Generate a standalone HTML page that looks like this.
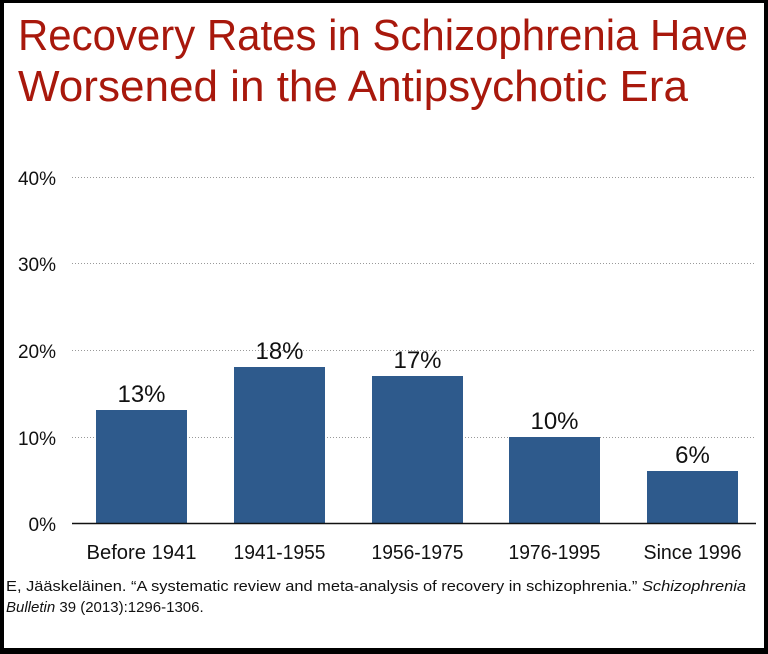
<!DOCTYPE html>
<html><head><meta charset="utf-8"><style>
html,body{margin:0;padding:0;background:#000;}
svg{display:block;}
</style></head><body>
<svg width="768" height="654" xmlns="http://www.w3.org/2000/svg" font-family="'Liberation Sans', sans-serif">
<rect x="0" y="0" width="768" height="654" fill="#000"/>
<rect x="4" y="3" width="760" height="645" fill="#fff"/>
<text x="18" y="50" font-size="44" fill="#a8180c" textLength="730" lengthAdjust="spacingAndGlyphs">Recovery Rates in Schizophrenia Have</text>
<text x="18" y="101" font-size="44" fill="#a8180c" textLength="670" lengthAdjust="spacingAndGlyphs">Worsened in the Antipsychotic Era</text>
<g stroke="#999" stroke-width="1" stroke-dasharray="1,2">
<line x1="72" x2="756" y1="177.5" y2="177.5"/>
<line x1="72" x2="756" y1="263.5" y2="263.5"/>
<line x1="72" x2="756" y1="350.5" y2="350.5"/>
<line x1="72" x2="756" y1="437.5" y2="437.5"/>
</g>
<g font-size="19" fill="#111" text-anchor="end">
<text x="56" y="185">40%</text>
<text x="56" y="271">30%</text>
<text x="56" y="358">20%</text>
<text x="56" y="445">10%</text>
<text x="56" y="531">0%</text>
</g>
<g fill="#2e5a8c">
<rect x="96" y="410" width="91" height="113"/>
<rect x="234" y="367" width="91" height="156"/>
<rect x="372" y="376" width="91" height="147"/>
<rect x="509" y="437" width="91" height="86"/>
<rect x="647" y="471" width="91" height="52"/>
</g>
<line x1="72" x2="756" y1="523.5" y2="523.5" stroke="#111" stroke-width="1.5"/>
<g font-size="24" fill="#111" text-anchor="middle">
<text x="141.5" y="402">13%</text>
<text x="279.5" y="359">18%</text>
<text x="417.5" y="368">17%</text>
<text x="554.5" y="429">10%</text>
<text x="692.5" y="463">6%</text>
</g>
<g font-size="20" fill="#111" text-anchor="middle">
<text x="141.5" y="559" textLength="110" lengthAdjust="spacingAndGlyphs">Before 1941</text>
<text x="279.5" y="559" textLength="92" lengthAdjust="spacingAndGlyphs">1941-1955</text>
<text x="417.5" y="559" textLength="92" lengthAdjust="spacingAndGlyphs">1956-1975</text>
<text x="554.5" y="559" textLength="92" lengthAdjust="spacingAndGlyphs">1976-1995</text>
<text x="692.5" y="559" textLength="98" lengthAdjust="spacingAndGlyphs">Since 1996</text>
</g>
<text x="6" y="591" font-size="15" fill="#111" textLength="740" lengthAdjust="spacingAndGlyphs">E, Jääskeläinen. “A systematic review and meta-analysis of recovery in schizophrenia.” <tspan font-style="italic">Schizophrenia</tspan></text>
<text x="6" y="612" font-size="15" fill="#111"><tspan font-style="italic">Bulletin</tspan> 39 (2013):1296-1306.</text>
</svg>
</body></html>
